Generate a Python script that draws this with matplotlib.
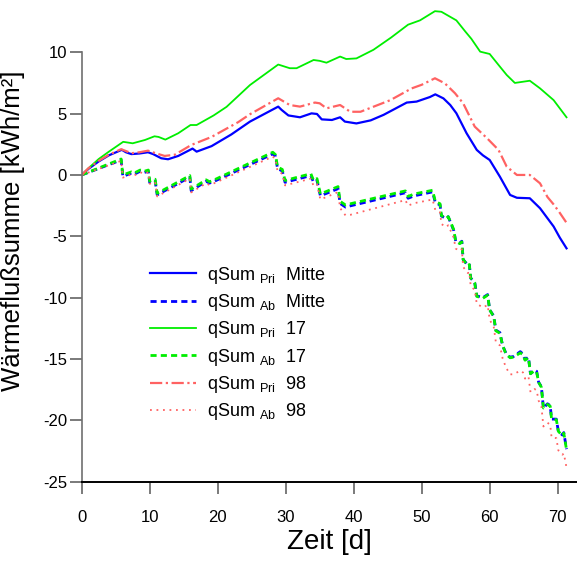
import matplotlib
matplotlib.use("Agg")
import matplotlib.pyplot as plt

plt.rcParams["font.family"] = ["Liberation Sans", "DejaVu Sans"]
plt.rcParams["mathtext.fontset"] = "custom"
plt.rcParams["mathtext.rm"] = "Liberation Sans"
plt.rcParams["mathtext.it"] = "Liberation Sans:italic"
plt.rcParams["mathtext.bf"] = "Liberation Sans:bold"
plt.rcParams["axes.unicode_minus"] = False

# --- primary heat-flux sums (smooth curves) -------------------------------
t_pri_mitte = [0, 1.0, 2.5, 4.0, 5.9, 6.5, 7.3, 8.5, 9.75, 10.5, 11.7, 12.7,
               14.2, 16.3, 16.9, 19.1, 22.0, 24.75, 28.9, 29.4, 30.4, 32.1,
               33.8, 34.6, 35.3, 36.8, 38.0, 38.7, 40.4, 42.5, 44.4, 47.8,
               49.25, 51.2, 52.0, 53.2, 54.2, 55.1, 56.6, 58.1, 59.0, 60.0,
               61.5, 63.0, 64.0, 65.9, 67.4, 69.4, 70.3, 71.3]
pri_mitte = [0, 0.5, 1.1, 1.6, 2.05, 1.85, 1.70, 1.75, 1.85, 1.70, 1.36, 1.28,
             1.55, 2.15, 1.90, 2.35, 3.30, 4.35, 5.57, 5.30, 4.85, 4.70,
             5.02, 4.97, 4.53, 4.48, 4.70, 4.35, 4.20, 4.45, 4.90, 5.90,
             5.98, 6.35, 6.57, 6.24, 5.70, 5.03, 3.40, 2.04, 1.60, 1.22,
             -0.14, -1.63, -1.86, -1.90, -2.71, -4.20, -5.10, -5.98]

t_pri_17 = [0, 1.0, 2.5, 4.0, 6.1, 7.5, 9.3, 10.7, 11.3, 12.3, 14.2, 16.0,
            16.9, 19.4, 21.3, 24.75, 28.9, 30.6, 31.6, 34.1, 35.0, 36.0, 38.0,
            38.9, 40.4, 42.9, 45.5, 48.0, 49.75, 51.95, 52.9, 55.1, 56.4,
            57.3, 58.6, 60.0, 61.5, 62.5, 63.7, 65.9, 67.4, 69.4, 71.3]
pri_17 = [0, 0.55, 1.3, 1.9, 2.70, 2.58, 2.85, 3.15, 3.10, 2.88, 3.40, 4.07,
          4.07, 4.85, 5.55, 7.33, 9.00, 8.70, 8.70, 9.37, 9.30, 9.15, 9.65,
          9.45, 9.50, 10.20, 11.20, 12.25, 12.60, 13.35, 13.30, 12.60, 11.70,
          11.10, 10.05, 9.86, 8.83, 8.15, 7.50, 7.68, 7.06, 6.10, 4.70]

t_pri_98 = [0, 1.0, 2.5, 4.0, 5.8, 6.5, 7.3, 8.5, 9.75, 11.0, 12.2, 13.7,
            16.1, 19.1, 23.0, 24.75, 28.9, 30.6, 32.1, 34.3, 35.0, 36.0, 38.0,
            39.5, 41.0, 45.4, 48.5, 50.0, 51.95, 53.4, 54.9, 56.1, 57.8, 59.6,
            61.3, 62.5, 64.0, 65.9, 67.4, 68.5, 69.4, 70.2, 71.3]
pri_98 = [0, 0.55, 1.15, 1.65, 2.10, 1.95, 1.77, 1.85, 1.98, 1.75, 1.55, 1.65,
          2.44, 3.10, 4.30, 4.95, 6.25, 5.70, 5.57, 5.90, 5.84, 5.43, 5.70,
          5.15, 5.15, 6.10, 7.05, 7.35, 7.88, 7.47, 6.66, 5.84, 3.94, 3.00,
          2.04, 0.68, 0.00, 0.00, -0.68, -1.80, -2.40, -3.00, -3.90]

# --- "Ab" heat-flux sums (saw-tooth curves, common time base) ---------------
t_ab = [0, 5.8, 6.05, 7.3, 7.7, 8.6, 9.2, 9.8, 10.0, 10.8, 11.1, 15.9, 16.1,
        18.3, 18.8, 19.3, 28.1, 28.5, 28.8, 29.5, 29.9, 33.7, 34.1, 34.6,
        35.1, 37.7, 38.0, 38.8, 39.5, 47.6, 48.0, 48.9, 51.6, 52.0, 52.7,
        52.9, 53.6, 53.9, 54.3, 54.7, 55.0, 55.6, 55.9, 56.1, 56.8, 57.0,
        57.2, 57.8, 58.1, 59.0, 59.7, 60.0, 60.6, 60.9, 61.5, 61.9, 62.4,
        63.0, 63.5, 64.5, 64.9, 65.2, 65.7, 66.0, 66.6, 66.9, 67.2, 67.6,
        67.9, 68.5, 68.9, 69.1, 69.8, 70.1, 70.7, 70.9, 71.3]
ab_17 = [0, 1.30, 0.0, 0.25, 0.15, 0.40, 0.30, 0.40, -0.50, -0.35, -1.50,
         -0.05, -1.15, -0.40, -0.55, -0.45, 1.85, 1.65, 0.65, 0.45, -0.45,
         0.10, -0.45, -0.30, -1.55, -0.95, -2.15, -2.45, -2.35, -1.30, -1.75,
         -1.55, -1.25, -2.15, -2.35, -3.30, -3.55, -3.40, -3.90, -4.45, -5.40,
         -5.60, -5.45, -6.90, -7.40, -7.30, -8.40, -8.80, -9.90, -10.05,
         -9.80, -11.00, -11.55, -12.70, -12.90, -13.90, -14.60, -14.90,
         -14.85, -14.50, -14.65, -15.10, -14.90, -16.20, -15.95, -16.05,
         -16.90, -17.30, -19.00, -18.70, -18.85, -19.90, -19.95, -20.90,
         -21.25, -21.05, -22.40]
ab_mitte = [0, 1.22, -0.12, 0.15, 0.05, 0.30, 0.20, 0.30, -0.62, -0.48, -1.62,
            -0.18, -1.28, -0.52, -0.66, -0.57, 1.72, 1.52, 0.52, 0.32, -0.60,
            -0.05, -0.60, -0.45, -1.70, -1.12, -2.32, -2.62, -2.52, -1.45,
            -1.90, -1.70, -1.38, -2.25, -2.45, -3.35, -3.55, -3.40, -3.95,
            -4.50, -5.40, -5.55, -5.40, -6.90, -7.35, -7.25, -8.40, -8.75,
            -9.85, -10.00, -9.75, -11.00, -11.50, -12.65, -12.85, -13.90,
            -14.55, -14.85, -14.80, -14.40, -14.60, -15.05, -14.85, -16.20,
            -15.90, -16.00, -16.90, -17.25, -19.00, -18.65, -18.80, -19.90,
            -19.90, -20.90, -21.20, -21.00, -22.35]
ab_98 = [0, 1.15, -0.22, 0.05, -0.05, 0.22, 0.10, 0.22, -0.72, -0.58, -1.75,
         -0.30, -1.42, -0.68, -0.82, -0.72, 1.50, 1.30, 0.30, 0.10, -0.85,
         -0.30, -0.90, -0.75, -2.00, -1.40, -2.70, -3.30, -3.25, -2.05, -2.50,
         -2.30, -2.00, -2.85, -3.05, -4.00, -4.25, -4.10, -4.60, -5.10, -6.00,
         -6.20, -6.05, -7.50, -8.00, -7.90, -9.00, -9.40, -10.50, -10.80,
         -10.60, -11.80, -12.40, -13.60, -13.90, -14.95, -15.70, -16.25,
         -16.25, -15.95, -16.10, -16.60, -16.40, -17.70, -17.45, -17.55,
         -18.40, -18.85, -20.50, -20.20, -20.35, -21.40, -21.45, -22.45,
         -22.80, -22.70, -23.85]

x_ticks = [0, 10, 20, 30, 40, 50, 60, 70]
y_ticks = [-25, -20, -15, -10, -5, 0, 5, 10]

BLUE = "#0000ff"
GREEN = "#00ee00"
RED = "#ff6262"

fig = plt.figure(figsize=(5.77, 5.61), dpi=100)
ax = fig.add_axes([0.1416, 0.1414, 0.8584, 0.8586])

sub = lambda s: r"$_{\mathregular{%s}}$" % s

ax.plot(t_pri_mitte, pri_mitte, color=BLUE, lw=1.6,
        label="qSum " + sub("Pri") + "  Mitte")
ax.plot(t_ab, ab_mitte, color=BLUE, lw=2.0, dashes=(2.2, 1.5),
        label="qSum " + sub("Ab") + "  Mitte")
ax.plot(t_pri_17, pri_17, color=GREEN, lw=1.3,
        label="qSum " + sub("Pri") + "  17")
ax.plot(t_ab, ab_17, color=GREEN, lw=2.0, dashes=(2.2, 1.5),
        label="qSum " + sub("Ab") + "  17")
ax.plot(t_pri_98, pri_98, color=RED, lw=1.6, dashes=(5.5, 1.6, 1.0, 1.6),
        label="qSum " + sub("Pri") + "  98")
ax.plot(t_ab, ab_98, color=RED, lw=1.3, dashes=(1.0, 2.6),
        label="qSum " + sub("Ab") + "  98")

ax.set_xlim(0, 72.84)
ax.set_ylim(-25, 14.26)
ax.set_xticks(x_ticks)
ax.set_yticks(y_ticks)

for side in ("top", "right"):
    ax.spines[side].set_visible(False)
ax.spines["left"].set_bounds(-25, 10)
ax.spines["left"].set_color("#707070")
ax.spines["left"].set_linewidth(1.2)
ax.spines["bottom"].set_color("black")
ax.spines["bottom"].set_linewidth(1.4)

ax.tick_params(axis="both", direction="out", length=8.5, width=1.3,
               color="#707070", labelsize=12, labelcolor="black")
ax.tick_params(axis="x", pad=12)
ax.tick_params(axis="y", pad=2)

ax.set_xlabel("Zeit [d]", fontsize=20, va="center")
ax.xaxis.set_label_coords(0.5, -0.125)
ax.set_ylabel("Wärmeflußsumme [kWh/m²]", fontsize=18.5)
ax.yaxis.set_label_coords(-0.1145, 0.52)

ax.legend(loc="center left", bbox_to_anchor=(0.138, 0.287), frameon=False,
          fontsize=13, handlelength=2.55, handletextpad=0.6,
          labelspacing=0.35, borderpad=0, borderaxespad=0)

fig.savefig("out.png", dpi=100)
